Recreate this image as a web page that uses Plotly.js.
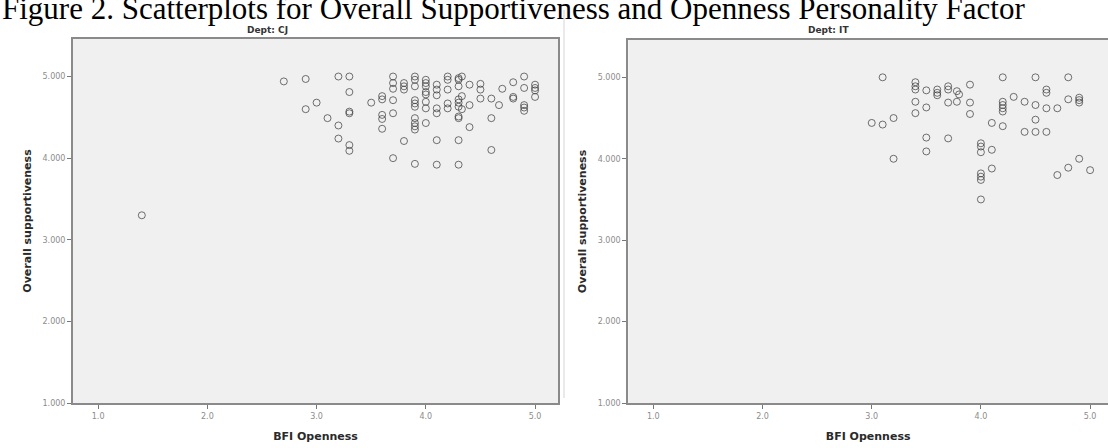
<!DOCTYPE html>
<html>
<head>
<meta charset="utf-8">
<script src="https://cdn.plot.ly/plotly-3.0.1.min.js"></script>
<style>html,body{margin:0;padding:0;background:#fff;}#chart{width:1108px;height:448px;}</style>
</head>
<body>
<div id="chart"></div>
<script>
// Dept: CJ
const cjOpenness = [1.4,2.7,2.9,2.9,3.0,3.1,3.2,3.2,3.2,3.3,3.3,3.3,3.3,3.3,3.3,3.5,3.6,3.6,3.6,3.6,3.6,
  3.7,3.7,3.7,3.7,3.7,3.7,3.8,3.8,3.8,3.8,3.9,3.9,3.9,3.9,3.9,3.9,3.9,3.9,3.9,3.9,3.9,
  4.0,4.0,4.0,4.0,4.0,4.0,4.0,4.0,4.1,4.1,4.1,4.1,4.1,4.1,4.1,4.2,4.2,4.2,4.2,4.2,
  4.3,4.3,4.3,4.3,4.3,4.3,4.3,4.3,4.3,4.3,4.33,4.33,4.33,4.4,4.4,4.4,4.5,4.5,4.5,
  4.6,4.6,4.6,4.7,4.67,4.8,4.8,4.8,4.9,4.9,4.9,4.9,4.9,5.0,5.0,5.0,5.0];
const cjSupport = [3.30,4.94,4.97,4.60,4.68,4.49,5.00,4.40,4.24,5.00,4.81,4.57,4.55,4.16,4.09,4.68,4.76,4.72,4.53,4.48,4.36,
  5.00,4.92,4.85,4.71,4.55,4.00,4.92,4.88,4.84,4.21,5.00,4.96,4.88,4.71,4.67,4.63,4.49,4.43,4.39,4.35,3.93,
  4.96,4.92,4.88,4.81,4.78,4.69,4.61,4.43,4.90,4.84,4.77,4.61,4.55,4.22,3.92,5.00,4.96,4.84,4.67,4.61,
  4.98,4.96,4.88,4.72,4.68,4.63,4.51,4.49,4.22,3.92,5.00,4.76,4.60,4.90,4.65,4.38,4.91,4.84,4.73,
  4.73,4.49,4.10,4.85,4.65,4.93,4.75,4.73,5.00,4.86,4.65,4.62,4.58,4.90,4.86,4.83,4.75];
// Dept: IT
const itOpenness = [3.0,3.1,3.1,3.2,3.2,3.4,3.4,3.4,3.4,3.4,3.5,3.5,3.5,3.5,3.6,3.6,3.6,3.7,3.7,3.7,3.7,
  3.78,3.8,3.78,3.9,3.9,3.9,4.0,4.0,4.0,4.0,4.0,4.0,4.0,4.1,4.1,4.1,4.2,4.2,4.2,4.2,4.2,4.2,
  4.3,4.4,4.4,4.5,4.5,4.5,4.5,4.6,4.6,4.6,4.6,4.7,4.7,4.8,4.8,4.8,4.9,4.9,4.9,4.9,5.0];
const itSupport = [4.44,4.42,5.00,4.50,4.00,4.94,4.89,4.85,4.70,4.56,4.84,4.63,4.26,4.09,4.85,4.81,4.78,4.89,4.85,4.69,4.25,
  4.83,4.79,4.70,4.91,4.69,4.55,4.19,4.15,4.08,3.82,3.78,3.74,3.50,4.44,4.11,3.88,5.00,4.70,4.66,4.62,4.58,4.40,
  4.76,4.70,4.33,5.00,4.66,4.48,4.33,4.85,4.81,4.62,4.33,4.62,3.80,3.89,5.00,4.73,4.75,4.72,4.69,4.00,3.86];

const xTicks = [1, 2, 3, 4, 5];
const yTicks = [1, 2, 3, 4, 5];
const xTickText = ['1.0', '2.0', '3.0', '4.0', '5.0'];
const yTickText = ['1.000', '2.000', '3.000', '4.000', '5.000'];
const panelTitles = ['Dept: CJ', 'Dept: IT'];
const figTitle = 'Figure 2. Scatterplots for Overall Supportiveness and Openness Personality Factor';
const xTitle = 'BFI Openness';
const yTitle = 'Overall supportiveness';

const marker = {symbol: 'circle-open', size: 7, color: 'rgba(60,60,60,0.72)', line: {width: 1, color: 'rgba(60,60,60,0.72)'}};
const traces = [
  {x: cjOpenness, y: cjSupport, type: 'scatter', mode: 'markers', marker: marker, xaxis: 'x', yaxis: 'y', hoverinfo: 'x+y'},
  {x: itOpenness, y: itSupport, type: 'scatter', mode: 'markers', marker: marker, xaxis: 'x2', yaxis: 'y2', hoverinfo: 'x+y'}
];

const tickFont = {family: 'DejaVu Sans, sans-serif', size: 8, color: '#8c8c8c'};
const titleFont = {family: 'DejaVu Sans, sans-serif', size: 11, color: '#2a2a2a', weight: 'bold'};
function xAxis(domain, range, anchor) {
  return {domain: domain, range: range, anchor: anchor, tickvals: xTicks, ticktext: xTickText,
    ticks: 'outside', ticklen: 4, tickwidth: 1, tickcolor: '#777', tickfont: tickFont,
    showline: true, linecolor: '#8a8a8a', linewidth: 2, mirror: true, showgrid: false, zeroline: false,
    title: {text: xTitle, font: titleFont, standoff: 13}};
}
function yAxis(domain, anchor) {
  return {domain: domain, range: [1, 5.46], anchor: anchor, tickvals: yTicks, ticktext: yTickText,
    ticks: 'outside', ticklen: 4, tickwidth: 1, tickcolor: '#777', tickfont: tickFont,
    showline: true, linecolor: '#8a8a8a', linewidth: 2, mirror: true, showgrid: false, zeroline: false,
    title: {text: yTitle, font: titleFont, standoff: 9}};
}

const layout = {
  width: 1108, height: 448,
  margin: {l: 0, r: 0, t: 0, b: 0},
  paper_bgcolor: '#ffffff', plot_bgcolor: '#f0f0f0',
  showlegend: false,
  xaxis: xAxis([0.0659, 0.5036], [0.77, 5.21], 'y'),
  yaxis: yAxis([0.1004, 0.913], 'x'),
  xaxis2: xAxis([0.567, 1.0], [0.77, 5.164], 'y2'),
  yaxis2: yAxis([0.1004, 0.911], 'x2'),
  annotations: [
    {text: figTitle, xref: 'paper', yref: 'paper', x: 0, y: 1 - 8/448, xanchor: 'left', yanchor: 'middle', showarrow: false,
     font: {family: 'Liberation Serif, Times New Roman, serif', size: 31, color: '#000'}},
    {text: panelTitles[0], xref: 'paper', yref: 'paper', x: 267/1108, y: 1 - 30/448, xanchor: 'center', yanchor: 'middle', showarrow: false,
     font: {family: 'DejaVu Sans, sans-serif', size: 9, color: '#333', weight: 'bold'}},
    {text: panelTitles[1], xref: 'paper', yref: 'paper', x: 828/1108, y: 1 - 30/448, xanchor: 'center', yanchor: 'middle', showarrow: false,
     font: {family: 'DejaVu Sans, sans-serif', size: 9, color: '#333', weight: 'bold'}}
  ],
  shapes: [
    {type: 'line', xref: 'paper', yref: 'paper', x0: 564/1108, x1: 564/1108, y0: 1 - 10/448, y1: 1 - 398/448,
     line: {color: '#d4d4d4', width: 1}}
  ]
};

Plotly.newPlot('chart', traces, layout, {staticPlot: true, displayModeBar: false});
</script>
</body>
</html>
